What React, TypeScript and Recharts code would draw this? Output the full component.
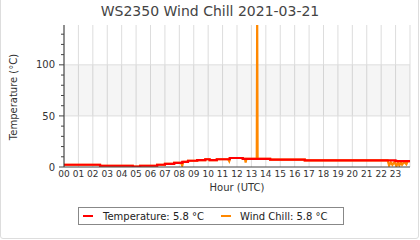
import React from "react";
import { CartesianGrid, Line, LineChart, ReferenceArea, ReferenceLine, XAxis, YAxis } from "recharts";

// Hour of day (UTC) at which the temperature reading changes, and the value from then on.
const TEMP_HOURS = [0, 2.5, 4.77, 5.28, 6.46, 7.0, 7.64, 8.2, 8.6, 9.24, 9.8, 10.1, 10.6, 11.5, 12.4, 14.3, 16.7, 23.0, 24];
const TEMPERATURE = [2.2, 1.2, 0.3, 1.2, 2.2, 3.1, 4.1, 5.1, 6.1, 6.7, 7.6, 6.7, 7.6, 8.8, 8.0, 7.2, 6.4, 5.8, 5.8];

// Wind chill follows the temperature, with a few dips and one bad sample at 13:24.
const CHILL_HOURS = [
  0, 2.5, 2.5, 4.77, 4.77, 5.28, 5.28, 6.46, 6.46, 7.0, 7.0, 7.64, 7.64, 8.12, 8.2, 8.28, 8.6, 8.6, 9.24, 9.24,
  9.8, 9.8, 10.1, 10.1, 10.6, 10.6, 11.38, 11.46, 11.5, 11.5, 12.4, 12.4, 12.55, 12.6, 12.65, 13.37, 13.4, 13.43,
  14.3, 14.3, 16.7, 16.7, 22.45, 22.55, 22.67, 22.78, 22.92, 23.06, 23.16, 23.26, 23.36, 23.45, 23.6, 23.75, 23.85, 24
];
const WIND_CHILL = [
  2.2, 2.2, 1.2, 1.2, 0.3, 0.3, 1.2, 1.2, 2.2, 2.2, 3.1, 3.1, 4.1, 4.1, 1.2, 5.1, 5.1, 6.1, 6.1, 6.7,
  6.7, 7.6, 7.6, 6.7, 6.7, 7.6, 7.6, 5.7, 7.6, 8.8, 8.8, 8.0, 8.0, 4.4, 8.0, 8.0, 150, 8.0,
  8.0, 7.2, 7.2, 6.4, 6.4, 1.5, 4.6, 2.2, 4.8, 0.8, 4.5, 1.5, 4.6, 2.2, 5.0, 2.7, 5.8, 5.8
];

const HOUR_TICKS = [0, 1, 2, 3, 4, 5, 6, 7, 8, 9, 10, 11, 12, 13, 14, 15, 16, 17, 18, 19, 20, 21, 22, 23];
const TEMP_TICKS = [0, 10, 20, 30, 40, 50, 60, 70, 80, 90, 100, 110, 120, 130];

const FONT = "'DejaVu Sans', sans-serif";
const TEMP_COLOR = "#ff0000";
const CHILL_COLOR = "#ff8800";

const tempData = TEMP_HOURS.map((hour, i) => ({ hour, value: TEMPERATURE[i] }));
const chillData = CHILL_HOURS.map((hour, i) => ({ hour, value: WIND_CHILL[i] }));

const latestTemp = TEMPERATURE[TEMPERATURE.length - 1].toFixed(1);
const latestChill = WIND_CHILL[WIND_CHILL.length - 1].toFixed(1);

function TempTick({ x, y, payload }: { x: number; y: number; payload: { value: number } }) {
  const major = payload.value % 50 === 0;
  return (
    <g>
      <line x1={x - (major ? 5 : 3)} x2={x} y1={y} y2={y} stroke="#444" />
      {major && (
        <text x={x - 9} y={y} dy="0.36em" textAnchor="end" fontSize={10} fontFamily={FONT} fill="#333">
          {payload.value}
        </text>
      )}
    </g>
  );
}

export default function App() {
  return (
    <div style={{ position: "absolute", left: 0, top: 0, width: 420, height: 240, background: "#fff", fontFamily: FONT }}>
      <div
        style={{
          position: "absolute",
          left: 0,
          top: -5,
          width: 419,
          height: 244,
          boxSizing: "border-box",
          border: "1px solid #ddd",
          borderRadius: 3
        }}
      />
      <div style={{ position: "absolute", left: 0, width: 420, top: 1, textAlign: "center", fontSize: 14, color: "#444", lineHeight: "20px" }}>
        WS2350 Wind Chill 2021-03-21
      </div>
      <LineChart width={420} height={240} margin={{ top: 25, right: 10, bottom: 53, left: 0 }} style={{ position: "absolute", left: 0, top: 0 }}>
        <ReferenceArea y1={50} y2={100} fill="#000" fillOpacity={0.04} stroke="none" ifOverflow="hidden" />
        <CartesianGrid horizontal={false} stroke="#ddd" />
        <ReferenceLine y={50} stroke="#ddd" />
        <ReferenceLine y={100} stroke="#ddd" />
        <XAxis
          dataKey="hour"
          type="number"
          domain={[0, 24]}
          ticks={HOUR_TICKS}
          tickFormatter={(h: number) => String(h).padStart(2, "0")}
          interval={0}
          height={20}
          tickLine={false}
          tickSize={0}
          tickMargin={4}
          axisLine={{ stroke: "#444", strokeWidth: 1.2 }}
          tick={{ fontSize: 9, fontFamily: FONT, fill: "#333" }}
        />
        <YAxis
          type="number"
          domain={[0, 139]}
          ticks={TEMP_TICKS}
          interval={0}
          allowDataOverflow
          width={64}
          tickLine={false}
          tickSize={0}
          tickMargin={0}
          axisLine={{ stroke: "#333" }}
          tick={TempTick}
        />
        <Line
          data={chillData}
          dataKey="value"
          type="linear"
          stroke={CHILL_COLOR}
          strokeWidth={2.2}
          dot={false}
          isAnimationActive={false}
        />
        <Line
          data={tempData}
          dataKey="value"
          type="stepAfter"
          stroke={TEMP_COLOR}
          strokeWidth={2.2}
          dot={false}
          isAnimationActive={false}
        />
      </LineChart>
      <div
        style={{
          position: "absolute",
          left: 7,
          top: 97,
          transform: "translate(-50%, -50%) rotate(-90deg)",
          transformOrigin: "center",
          marginLeft: 6,
          whiteSpace: "nowrap",
          fontSize: 10,
          color: "#333"
        }}
      >
        Temperature (°C)
      </div>
      <div style={{ position: "absolute", left: 64, width: 346, top: 181, textAlign: "center", fontSize: 10, color: "#333", lineHeight: "14px" }}>
        Hour (UTC)
      </div>
      <div
        style={{
          position: "absolute",
          left: 78,
          top: 207,
          width: 266,
          height: 18,
          boxSizing: "border-box",
          border: "1px solid #888",
          display: "flex",
          alignItems: "center",
          fontSize: 10,
          color: "#222"
        }}
      >
        <span style={{ display: "inline-block", width: 10, height: 2.5, background: TEMP_COLOR, marginLeft: 4 }} />
        <span style={{ marginLeft: 10 }}>Temperature: {latestTemp} °C</span>
        <span style={{ display: "inline-block", width: 10, height: 2.5, background: CHILL_COLOR, marginLeft: 17 }} />
        <span style={{ marginLeft: 9 }}>Wind Chill: {latestChill} °C</span>
      </div>
    </div>
  );
}
